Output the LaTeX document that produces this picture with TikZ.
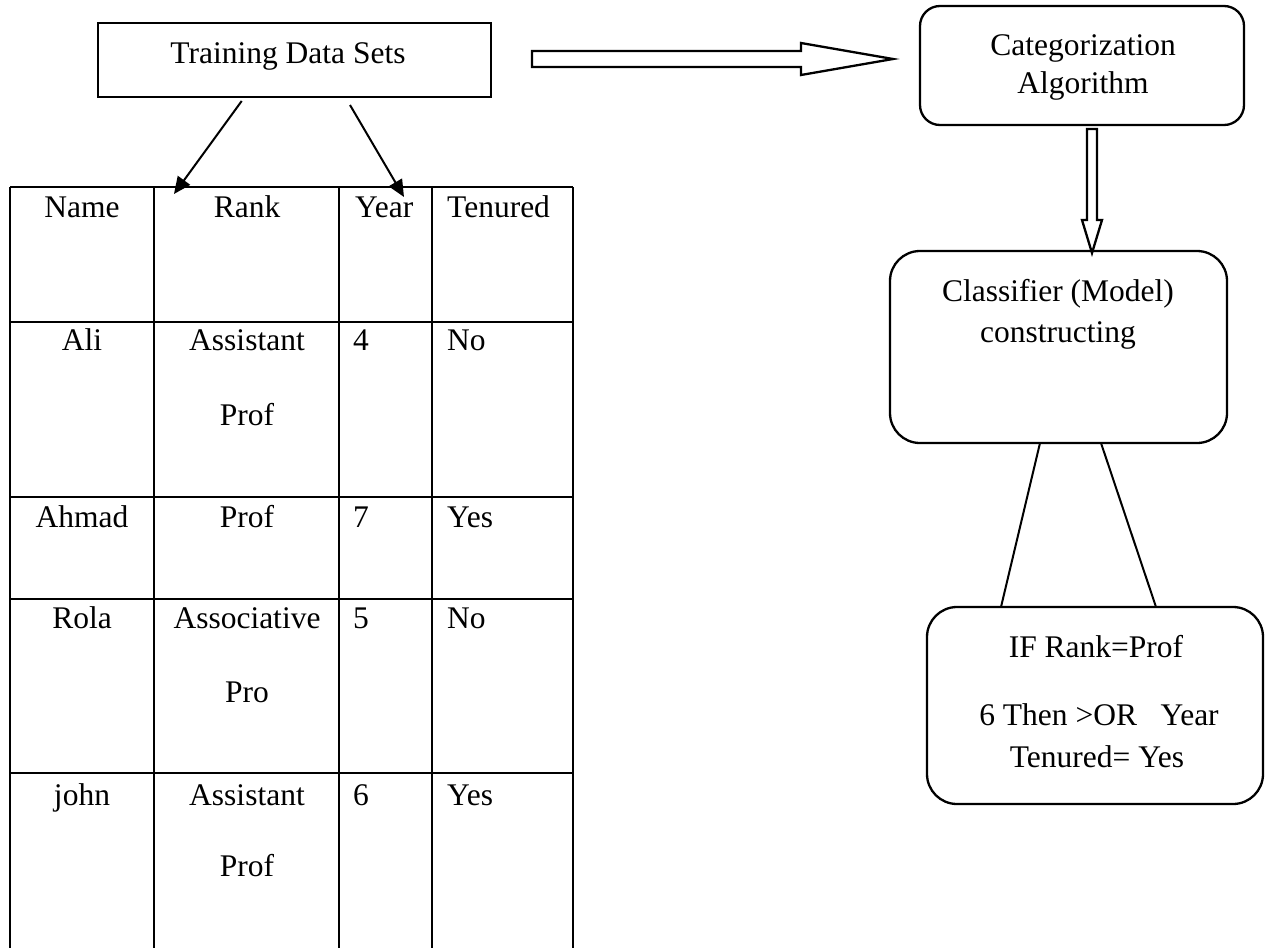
\documentclass[tikz,border=0pt]{standalone}
\usepackage{fontspec}
\setmainfont{Liberation Serif}
\usetikzlibrary{arrows.meta}
\begin{document}
\begin{tikzpicture}[x=1pt,y=-1pt,
  txt/.style={font=\fontsize{31.5}{38}\selectfont, inner sep=0pt, anchor=base},
  ltxt/.style={txt, anchor=base west},
  box/.style={draw, line width=2.3pt, inner sep=0pt},
  rbox/.style={box, rounded corners=#1},
  conn/.style={line width=2pt},
  grid/.style={line width=2.8pt},
  tip/.style={-{Triangle[length=17pt,width=15pt]}},
  blockarrow/.style={draw, line width=2.3pt, fill=white, line join=miter}]
\useasboundingbox (0,0) rectangle (1269,948);

% Training data box
\node[box, minimum width=393pt, minimum height=74pt] (train) at (294.5,60) {};
\node[txt] (trainlbl) at (288,63) {Training Data Sets};

% Categorization algorithm box
\node[rbox=20pt, minimum width=324pt, minimum height=119pt] (cat) at (1082,65.5) {};
\node[txt] (catlbl1) at (1083,55) {Categorization};
\node[txt] (catlbl2) at (1083,93) {Algorithm};

% Classifier box
\node[rbox=30pt, minimum width=337pt, minimum height=192pt] (cls) at (1058.5,347) {};
\node[txt] (clslbl1) at (1058,301) {Classifier (Model)};
\node[txt] (clslbl2) at (1058,342) {constructing};

% Rule box
\node[rbox=30pt, minimum width=336pt, minimum height=197pt] (rule) at (1095,705.5) {};
\node[txt] (rulelbl1) at (1096,657) {IF Rank=Prof};
\node[txt] (rulelbl2) at (1099,725) {6 Then >OR\ \ \ Year};
\node[txt] (rulelbl3) at (1097,767) {Tenured= Yes};

% Block arrows
\draw[blockarrow] (532,51) -- (801,51) -- (801,43) -- (893,59) -- (801,75)
  -- (801,67) -- (532,67) -- cycle;
\draw[blockarrow] (1087,129) -- (1097,129) -- (1097,220) -- (1102,220)
  -- (1092,253) -- (1082,220) -- (1087,220) -- cycle;

% Classifier to rule connectors
\coordinate (clsL) at (1040,443);
\coordinate (clsR) at (1101,443);
\coordinate (ruleL) at (1001,607);
\coordinate (ruleR) at (1156,607);
\draw[conn] (clsL) -- (ruleL);
\draw[conn] (clsR) -- (ruleR);

% Table grid
\foreach \xx in {10,154,339,432,573}
  \draw[grid] (\xx,187) -- (\xx,948);
\foreach \yy in {187,322,497,599,773}
  \draw[grid] (10,\yy) -- (573,\yy);

% Arrows from training data to the table
\coordinate (trainL) at (241.7,101);
\coordinate (trainR) at (350,105);
\coordinate (rankTop) at (174,194);
\coordinate (yearTop) at (404,197);
\draw[conn, tip] (trainL) -- (rankTop);
\draw[conn, tip] (trainR) -- (yearTop);

% Header row
\node[txt] (hName) at (82,217) {Name};
\node[txt] (hRank) at (247,217) {Rank};
\node[ltxt] (hYear) at (355,217) {Year};
\node[ltxt] (hTen) at (447,217) {Tenured};

% Rows
\node[txt] (n1) at (82,350) {Ali};
\node[txt] (r1a) at (247,350) {Assistant};
\node[txt] (r1b) at (247,425) {Prof};
\node[ltxt] (y1) at (353,350) {4};
\node[ltxt] (t1) at (447,350) {No};

\node[txt] (n2) at (82,527) {Ahmad};
\node[txt] (r2) at (247,527) {Prof};
\node[ltxt] (y2) at (353,527) {7};
\node[ltxt] (t2) at (447,527) {Yes};

\node[txt] (n3) at (82,628) {Rola};
\node[txt] (r3a) at (247,628) {Associative};
\node[txt] (r3b) at (247,702) {Pro};
\node[ltxt] (y3) at (353,628) {5};
\node[ltxt] (t3) at (447,628) {No};

\node[txt] (n4) at (82,805) {john};
\node[txt] (r4a) at (247,805) {Assistant};
\node[txt] (r4b) at (247,876) {Prof};
\node[ltxt] (y4) at (353,805) {6};
\node[ltxt] (t4) at (447,805) {Yes};
\end{tikzpicture}
\end{document}
